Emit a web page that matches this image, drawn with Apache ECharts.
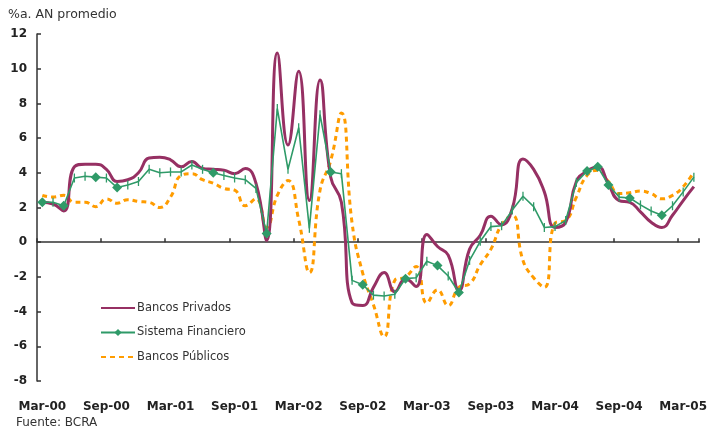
<!DOCTYPE html>
<html><head><meta charset="utf-8">
<script src="https://cdn.jsdelivr.net/npm/echarts@6/dist/echarts.min.js"></script>
<style>html,body{margin:0;padding:0;background:#fff}#c{width:710px;height:429px}</style>
</head><body><div id="c"></div>
<script>
// Monthly categories Mar-00 .. Apr-05
const monthNames = ['Ene','Feb','Mar','Abr','May','Jun','Jul','Ago','Sep','Oct','Nov','Dic'];
const categories = [];
for (let k = 0; k < 62; k++) {
  const m = (2 + k) % 12, y = Math.floor((2 + k) / 12);
  categories.push(monthNames[m] + '-0' + y);
}
const yTicks = [-8, -6, -4, -2, 0, 2, 4, 6, 8, 10, 12];

const bancosPrivados = [
  2.3, 2.2, 1.8, 4.35, 4.5, 4.5, 4.2, 3.5, 3.6, 4.0, 4.85, 4.9,
  4.75, 4.35, 4.65, 4.25, 4.2, 4.15, 3.95, 4.25, 3.4, 0.1,
  10.9, 5.6, 9.85, 2.4, 9.35, 3.75, 2.3, -3.5, -3.65, -2.6,
  -1.75, -2.85, -2.1, -2.55, 0.45, -0.25, -0.75, -2.8, -0.4, 0.4,
  1.5, 1.0, 1.95, 4.8, 4.2, 2.9, 0.85, 1.15, 3.5, 4.1,
  4.35, 3.35, 2.4, 2.3, 1.75, 1.15, 0.85, 1.55, 2.4, 3.2
];
const sistemaFinanciero = [
  2.3, 2.3, 2.1, 3.7, 3.8, 3.75, 3.7, 3.15, 3.3, 3.5, 4.2, 4.0,
  4.05, 4.05, 4.45, 4.2, 4.0, 3.85, 3.7, 3.6, 3.1, 0.5,
  7.7, 4.2, 6.6, 0.8, 7.35, 4.05, 3.95, -2.2, -2.45, -3.05,
  -3.1, -3.0, -2.1, -2.05, -1.1, -1.35, -1.95, -2.9, -1.05, 0.05,
  0.9, 0.95, 1.85, 2.65, 2.05, 0.85, 0.9, 1.25, 3.45, 4.1,
  4.35, 3.3, 2.6, 2.55, 2.15, 1.8, 1.55, 2.1, 2.9, 3.75
];
const bancosPublicos = [
  2.7, 2.6, 2.7, 2.3, 2.3, 2.05, 2.5, 2.25, 2.45, 2.35, 2.3, 2.0,
  2.6, 3.85, 3.95, 3.6, 3.4, 3.1, 3.0, 2.1, 2.5, 0.85,
  2.7, 3.55, 1.3, -1.75, 3.0, 4.7, 7.45, 1.1, -1.8, -3.6,
  -5.45, -2.2, -2.0, -1.4, -3.5, -2.75, -3.65, -2.6, -2.4, -1.3,
  -0.4, 1.0, 1.55, -1.05, -2.05, -2.6, 1.1, 1.25, 2.6, 3.85,
  4.15, 3.5, 2.8, 2.85, 2.95, 2.8, 2.5, 2.7, 3.2, 4.05
];
// Points of "Sistema Financiero" drawn with a diamond marker (others: small vertical bar)
const diamondIdx = [0, 2, 5, 7, 16, 21, 27, 30, 34, 37, 39, 51, 52, 53, 55, 58];

const PURPLE = '#963063', GREEN = '#2f9a68', ORANGE = '#ff9c00';
const FONT = 'DejaVu Sans';

const sfData = sistemaFinanciero.map((v, i) => diamondIdx.includes(i)
  ? { value: v, symbol: 'diamond', symbolSize: 10 }
  : { value: v, symbol: 'rect', symbolSize: [1.3, 9] });

const chart = echarts.init(document.getElementById('c'), null, { renderer: 'canvas' });
chart.setOption({
  animation: false,
  backgroundColor: '#fff',
  grid: { left: 37, right: 10, top: 34, bottom: 48, containLabel: false },
  graphic: [
    { type: 'text', left: 8, top: 8, style: { text: '%a. AN promedio', font: '12.5px "' + FONT + '"', fill: '#333' } },
    { type: 'text', left: 16, top: 417, style: { text: 'Fuente: BCRA', font: '12px "' + FONT + '"', fill: '#333' } }
  ],
  legend: {
    orient: 'vertical', left: 95, top: 297, itemWidth: 34, itemHeight: 9, itemGap: 12.5,
    textStyle: { fontFamily: FONT, fontSize: 11.5, color: '#333', padding: [0, 0, 0, -3] },
    data: [
      { name: 'Bancos Privados', itemStyle: { opacity: 0 } },
      { name: 'Sistema Financiero' },
      { name: 'Bancos Públicos', itemStyle: { opacity: 0 } }
    ]
  },
  xAxis: [
    {
      type: 'category', data: categories, position: 'bottom', boundaryGap: true,
      axisLine: { show: false, onZero: false }, axisTick: { show: false },
      axisLabel: { interval: 5, margin: 20, fontFamily: FONT, fontWeight: 'bold', fontSize: 12, color: '#222' }
    },
    {
      type: 'category', data: categories, position: 'bottom', boundaryGap: true,
      axisLine: { show: true, onZero: true, lineStyle: { color: '#333', width: 1.5 } },
      axisTick: { show: true, inside: true, interval: 5, length: 4, lineStyle: { color: '#333', width: 1.5 } },
      axisLabel: { show: false }
    }
  ],
  yAxis: {
    type: 'value', min: -8, max: 12, interval: 2,
    axisLine: { show: true, lineStyle: { color: '#333', width: 1.5 } },
    axisTick: { show: true, inside: true, length: 4, lineStyle: { color: '#333', width: 1.5 } },
    splitLine: { show: false },
    axisLabel: {
      margin: 10, fontFamily: FONT, fontWeight: 'bold', fontSize: 12, color: '#222',
      formatter: v => yTicks.includes(v) ? String(v) : ''
    }
  },
  series: [
    {
      name: 'Bancos Privados', type: 'line', xAxisIndex: 0, data: bancosPrivados,
      smooth: 0.5, showSymbol: false, symbol: 'circle',
      lineStyle: { color: PURPLE, width: 3 }, itemStyle: { color: PURPLE }, z: 3
    },
    {
      name: 'Sistema Financiero', type: 'line', xAxisIndex: 0, data: sfData,
      smooth: false, symbol: 'diamond', symbolSize: 10, showAllSymbol: true,
      lineStyle: { color: GREEN, width: 1.6 }, itemStyle: { color: GREEN }, z: 4
    },
    {
      name: 'Bancos Públicos', type: 'line', xAxisIndex: 0, data: bancosPublicos,
      smooth: 0.5, showSymbol: false, symbol: 'circle',
      lineStyle: { color: ORANGE, width: 3, type: [5, 4] }, itemStyle: { color: ORANGE }, z: 2
    }
  ]
});
</script></body></html>
